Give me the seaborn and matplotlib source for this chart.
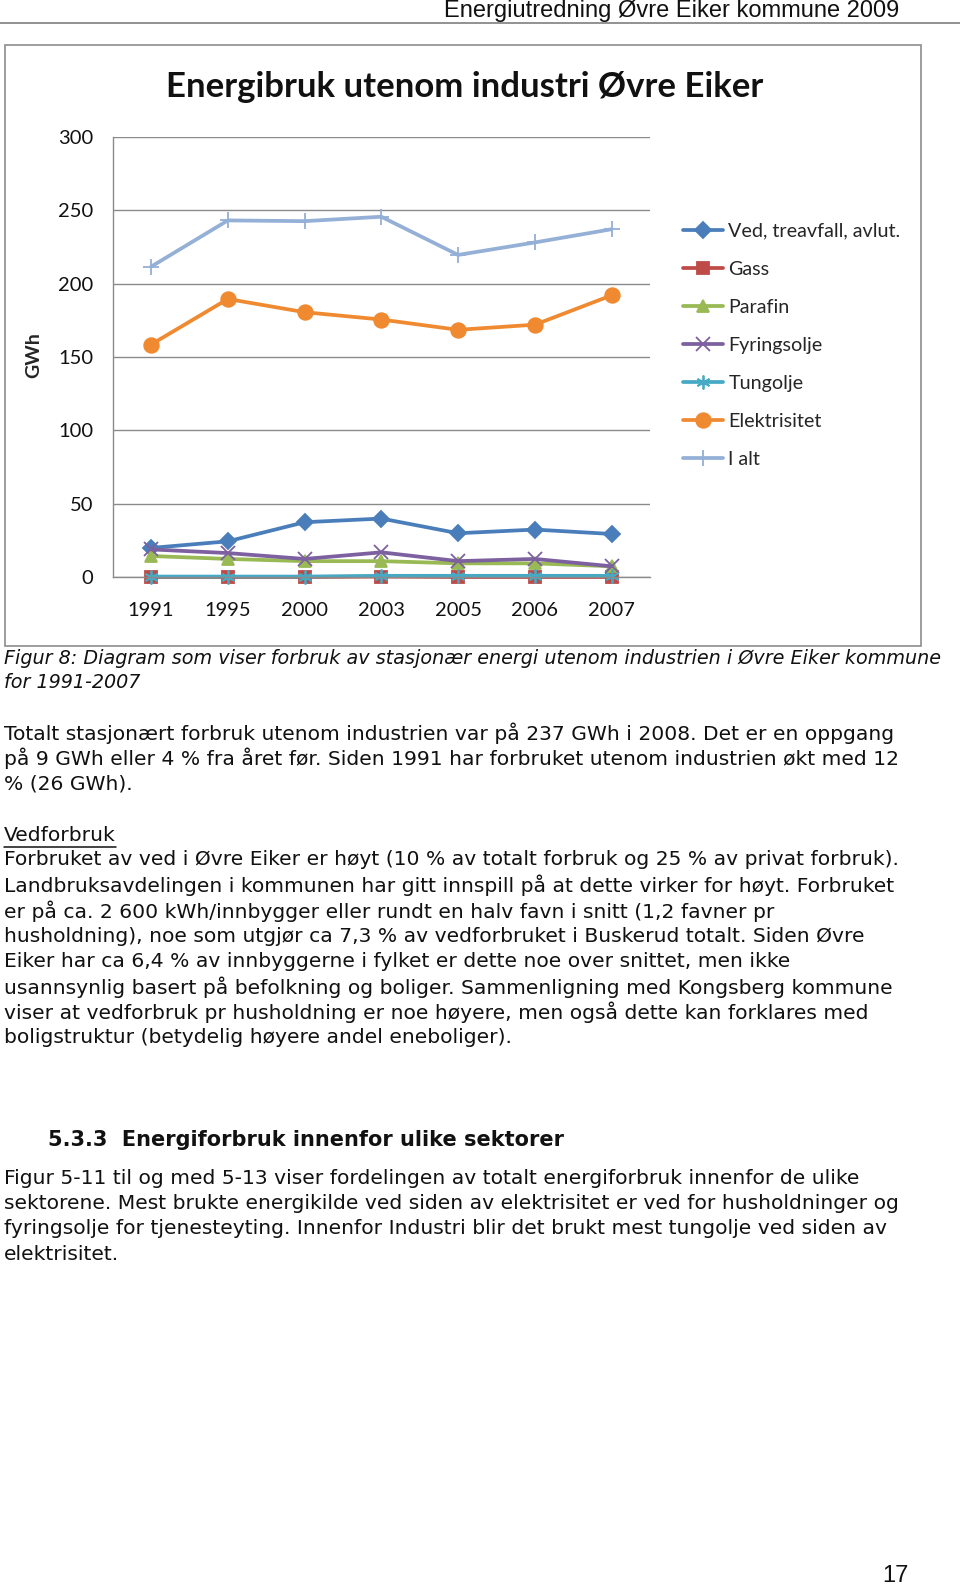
import numpy as np
import pandas as pd
import matplotlib
matplotlib.use("Agg")
import matplotlib.pyplot as plt
import seaborn as sns
from matplotlib.lines import Line2D
from matplotlib.patches import Rectangle

# ---------------------------------------------------------------
# Data
# ---------------------------------------------------------------
years = ['1991', '1995', '2000', '2003', '2005', '2006', '2007']
series_names = ['Ved, treavfall, avlut.', 'Gass', 'Parafin', 'Fyringsolje',
                'Tungolje', 'Elektrisitet', 'I alt']
ved = [20, 24.5, 37.5, 40, 30, 32.5, 29.5]
gass = [0.2, 0.2, 0.2, 0.5, 0.2, 0.2, 0.2]
parafin = [14.5, 12.5, 11, 11, 9.5, 9.5, 7.5]
fyringsolje = [19, 16.5, 12.5, 17, 11, 12.5, 7.5]
tungolje = [0.5, 0.5, 0.5, 1, 1, 1, 1]
elektrisitet = [158.5, 189.5, 180.5, 175.5, 168.5, 172, 192]
i_alt = [211.5, 243, 242.5, 245.5, 219.5, 228, 237]
all_values = [ved, gass, parafin, fyringsolje, tungolje, elektrisitet, i_alt]

colors = ['#4a7ebb', '#be4b48', '#98b954', '#7d60a0', '#46aac5', '#f08a30', '#94b0d6']
marker_styles = ['D', 's', '^', 'x', (6, 2, 0), 'o', '+']
marker_sizes = [8.5, 9, 9, 10, 10, 10.5, 12]

header_text = "Energiutredning Øvre Eiker kommune 2009"
chart_title = "Energibruk utenom industri Øvre Eiker"
caption_lines = [
    "Figur 8: Diagram som viser forbruk av stasjonær energi utenom industrien i Øvre Eiker kommune",
    "for 1991-2007",
]
para1 = [
    "Totalt stasjonært forbruk utenom industrien var på 237 GWh i 2008. Det er en oppgang",
    "på 9 GWh eller 4 % fra året før. Siden 1991 har forbruket utenom industrien økt med 12",
    "% (26 GWh).",
]
subhead = "Vedforbruk"
para2 = [
    "Forbruket av ved i Øvre Eiker er høyt (10 % av totalt forbruk og 25 % av privat forbruk).",
    "Landbruksavdelingen i kommunen har gitt innspill på at dette virker for høyt. Forbruket",
    "er på ca. 2 600 kWh/innbygger eller rundt en halv favn i snitt (1,2 favner pr",
    "husholdning), noe som utgjør ca 7,3 % av vedforbruket i Buskerud totalt. Siden Øvre",
    "Eiker har ca 6,4 % av innbyggerne i fylket er dette noe over snittet, men ikke",
    "usannsynlig basert på befolkning og boliger. Sammenligning med Kongsberg kommune",
    "viser at vedforbruk pr husholdning er noe høyere, men også dette kan forklares med",
    "boligstruktur (betydelig høyere andel eneboliger).",
]
heading = "5.3.3  Energiforbruk innenfor ulike sektorer"
para3 = [
    "Figur 5-11 til og med 5-13 viser fordelingen av totalt energiforbruk innenfor de ulike",
    "sektorene. Mest brukte energikilde ved siden av elektrisitet er ved for husholdninger og",
    "fyringsolje for tjenesteyting. Innenfor Industri blir det brukt mest tungolje ved siden av",
    "elektrisitet.",
]
page_no = "17"

df = pd.DataFrame({
    'År': years * len(series_names),
    'GWh': [v for vals in all_values for v in vals],
    'Energibærer': [n for n in series_names for _ in years],
})

# ---------------------------------------------------------------
# Figure (page) setup, pixel helpers
# ---------------------------------------------------------------
sns.set_style("white")
plt.rcParams['font.family'] = ['DejaVu Sans']
W, H = 960, 1585
fig = plt.figure(figsize=(W / 100, H / 100), dpi=100)


def fx(px):
    return px / W


def fy(py):
    return 1 - py / H


# page header
fig.text(fx(899), fy(11.5), header_text, ha='right', va='center', fontsize=17,
         family=['Liberation Sans Narrow', 'Liberation Sans'], color='#111111')
fig.add_artist(Line2D([0, 1], [fy(23), fy(23)], color='#7f7f7f', lw=1.2,
                      transform=fig.transFigure))

# chart frame
fig.add_artist(Rectangle((fx(5), fy(646)), fx(921) - fx(5), fy(45) - fy(646),
                         transform=fig.transFigure, fill=False,
                         edgecolor='#8c8c8c', lw=1.2))

# ---------------------------------------------------------------
# Chart
# ---------------------------------------------------------------
ax = fig.add_axes([fx(112.7), fy(577.3), fx(650) - fx(112.7), fy(136.7) - fy(577.3)])
palette = dict(zip(series_names, colors))
sns.lineplot(data=df, x='År', y='GWh', hue='Energibærer',
             hue_order=series_names, palette=palette, linewidth=2.7, sort=False,
             errorbar=None, legend=False, ax=ax)

# Excel-style markers (seaborn will not mix filled and line-art markers)
for line, name, mk, ms in zip(ax.lines, series_names, marker_styles, marker_sizes):
    line.set_marker(mk)
    line.set_markersize(ms)
    line.set_markeredgecolor(palette[name])
    line.set_markerfacecolor(palette[name])
    line.set_markeredgewidth(1.3)
    line.set_clip_on(False)

ax.set_xlim(-0.5, 6.5)
ax.set_ylim(0, 300)
ax.set_yticks(range(0, 301, 50))
ax.set_axisbelow(True)
ax.yaxis.grid(True, color='#8a8a8a', lw=1)
ax.xaxis.grid(False)
for side in ['top', 'right']:
    ax.spines[side].set_visible(False)
for side in ['left', 'bottom']:
    ax.spines[side].set_color('#8a8a8a')
    ax.spines[side].set_linewidth(1)
ax.set_xlabel('')
ax.set_ylabel('')
ax.tick_params(axis='y', length=6, color='#8a8a8a', pad=8, labelsize=14.5)
ax.tick_params(axis='x', which='major', length=0, pad=18, labelsize=14.5)
ax.set_xticks(np.arange(-0.5, 7, 1), minor=True)
ax.tick_params(axis='x', which='minor', length=6, color='#8a8a8a', direction='out')
for lab in ax.get_xticklabels() + ax.get_yticklabels():
    lab.set_family(['Lato', 'DejaVu Sans'])
    lab.set_color('#111111')

fig.text(fx(465), fy(87), chart_title, ha='center', va='center', fontsize=25,
         fontweight='bold', family=['Lato', 'DejaVu Sans'], color='#111111')
fig.text(fx(34), fy(355), 'GWh', ha='center', va='center', rotation=90,
         fontsize=14, fontweight='bold', family=['Lato', 'DejaVu Sans'])

fig.legend(ax.lines, series_names, loc='upper left',
           bbox_to_anchor=(fx(683), fy(222.5)), frameon=False,
           prop={'family': ['Lato', 'DejaVu Sans'], 'size': 14.2},
           handlelength=2.05, handletextpad=0.25, labelspacing=1.07,
           borderpad=0, borderaxespad=0)

# ---------------------------------------------------------------
# Page text
# ---------------------------------------------------------------
body_fs = 14.6
for i, s in enumerate(caption_lines):
    fig.text(fx(4), fy(659 + 24 * i), s, ha='left', va='center', fontsize=13.8,
             style='italic', color='#111111')
for i, s in enumerate(para1):
    fig.text(fx(4), fy(733 + 25.3 * i), s, ha='left', va='center', fontsize=body_fs,
             color='#111111')
sub = fig.text(fx(4), fy(835), subhead, ha='left', va='center', fontsize=body_fs,
               color='#111111')
for i, s in enumerate(para2):
    fig.text(fx(4), fy(860 + 25.4 * i), s, ha='left', va='center', fontsize=body_fs,
             color='#111111')
fig.text(fx(48), fy(1140), heading, ha='left', va='center', fontsize=15,
         fontweight='bold', color='#111111')
for i, s in enumerate(para3):
    fig.text(fx(4), fy(1178 + 25.5 * i), s, ha='left', va='center', fontsize=body_fs,
             color='#111111')
fig.text(fx(909), fy(1576), page_no, ha='right', va='center', fontsize=17,
         family=['Liberation Sans', 'DejaVu Sans'], color='#111111')

# underline for "Vedforbruk"
fig.canvas.draw()
bb = sub.get_window_extent(renderer=fig.canvas.get_renderer())
fig.add_artist(Line2D([bb.x0 / W, bb.x1 / W], [fy(847), fy(847)], color='#111111',
                      lw=1.1, transform=fig.transFigure))

fig.savefig('out.png', dpi=100)
